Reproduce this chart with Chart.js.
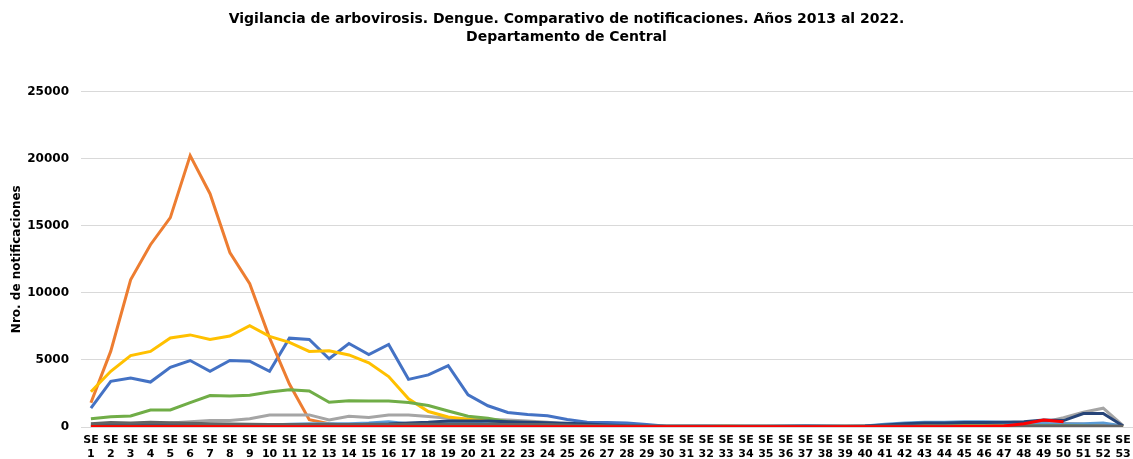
<!DOCTYPE html>
<html>
<head>
<meta charset="utf-8">
<script src="https://cdn.jsdelivr.net/npm/chart.js@4/dist/chart.umd.min.js"></script>
<style>
  html, body { margin: 0; padding: 0; background: #fff; }
  #wrap { width: 1133px; height: 459px; position: relative; }
</style>
</head>
<body>
<div id="wrap"><canvas id="chart"></canvas></div>
<script>
// Semanas epidemiológicas SE 1 .. SE 53
const weeks = Array.from({ length: 53 }, (_, i) => ['SE', String(i + 1)]);

// Series (one per year, Excel palette order)
const y2013 = [1400, 3400, 3650, 3350, 4450, 4950, 4150, 4950, 4900, 4150, 6620, 6520, 5080, 6220, 5400, 6150, 3550, 3880, 4570, 2400, 1580, 1080, 930, 830, 560, 360, 340, 290, 180, 60, 50, 50, 40, 40, 40, 40, 50, 40, 40, 50, 80, 100, 100, 120, 130, 150, 150, 150, 160, 150, 150, 150, 80];
const y2014 = [1800, 5650, 10970, 13580, 15600, 20220, 17380, 13000, 10680, 6640, 3200, 550, 250, 120, 80, 60, 50, 50, 40, 40, 40, 40, 40, 40, 40, 30, 30, 30, 30, 30, 30, 30, 30, 30, 30, 30, 30, 30, 30, 30, 30, 30, 30, 30, 40, 50, 60, 80, 200, 250, 200, 150, 100];
const y2015 = [200, 250, 250, 250, 300, 400, 480, 480, 620, 900, 900, 900, 520, 800, 700, 900, 900, 780, 650, 580, 560, 520, 450, 350, 200, 130, 100, 80, 60, 40, 40, 40, 40, 40, 40, 40, 40, 40, 40, 50, 60, 60, 60, 70, 70, 80, 80, 100, 350, 700, 1100, 1400, 100];
const y2016 = [2620, 4150, 5320, 5630, 6630, 6860, 6520, 6780, 7550, 6750, 6300, 5630, 5680, 5370, 4780, 3760, 2100, 1150, 750, 580, 450, 300, 220, 150, 100, 80, 60, 50, 50, 50, 50, 60, 80, 50, 50, 50, 50, 50, 50, 60, 100, 100, 100, 100, 100, 100, 100, 100, 100, 100, 100, 100, 60];
const y2017 = [100, 150, 150, 150, 150, 150, 150, 150, 150, 150, 200, 250, 250, 250, 300, 400, 250, 250, 300, 300, 250, 200, 150, 150, 120, 100, 100, 100, 80, 60, 60, 60, 60, 60, 60, 80, 100, 80, 60, 80, 200, 300, 350, 350, 400, 400, 350, 300, 250, 250, 250, 300, 80];
const y2018 = [620, 770, 820, 1270, 1270, 1810, 2340, 2310, 2360, 2610, 2780, 2690, 1840, 1960, 1940, 1930, 1820, 1600, 1190, 800, 650, 400, 300, 200, 150, 100, 80, 60, 40, 30, 30, 30, 30, 30, 30, 30, 30, 30, 30, 30, 40, 40, 40, 50, 50, 60, 60, 80, 100, 100, 80, 40, 20];
const y2019 = [100, 100, 100, 100, 100, 100, 100, 100, 100, 100, 120, 120, 150, 150, 200, 220, 300, 350, 450, 450, 450, 400, 350, 320, 280, 220, 150, 100, 80, 50, 50, 50, 50, 50, 50, 50, 60, 60, 60, 80, 150, 250, 300, 300, 330, 330, 350, 400, 520, 480, 1000, 1000, 80];
const y2020 = [60, 60, 60, 60, 60, 60, 60, 60, 60, 60, 60, 60, 60, 60, 60, 60, 60, 60, 60, 60, 60, 50, 50, 50, 50, 40, 40, 40, 40, 40, 40, 40, 40, 40, 40, 40, 40, 40, 40, 40, 40, 40, 40, 40, 40, 40, 40, 40, 40, 40, 40, 40, 40];
const y2021 = [250, 330, 300, 350, 320, 280, 250, 230, 200, 180, 180, 180, 180, 180, 180, 180, 200, 200, 200, 200, 180, 180, 180, 180, 150, 120, 100, 80, 60, 50, 50, 50, 50, 50, 50, 50, 50, 50, 50, 50, 80, 80, 80, 80, 80, 80, 80, 80, 80, 80, 80, 80, 50];
const y2022 = [20, 20, 20, 20, 20, 20, 20, 20, 20, 20, 20, 20, 20, 20, 20, 20, 20, 20, 20, 20, 20, 20, 20, 20, 20, 20, 20, 20, 20, 20, 20, 20, 20, 20, 20, 20, 20, 20, 20, 20, 20, 20, 20, 20, 30, 40, 80, 250, 520, 400, null, null, null];

const seriesNames = ['2013', '2014', '2015', '2016', '2017', '2018', '2019', '2020', '2021', '2022'];
const seriesData = [y2013, y2014, y2015, y2016, y2017, y2018, y2019, y2020, y2021, y2022];
const seriesColors = ['#4472C4', '#ED7D31', '#A5A5A5', '#FFC000', '#5B9BD5', '#70AD47', '#264478', '#9E480E', '#636363', '#FF0000'];

const FONT = "'DejaVu Sans', Verdana, sans-serif";

const ctx = document.getElementById('chart').getContext('2d');
new Chart(ctx, {
  type: 'line',
  data: {
    labels: weeks,
    datasets: seriesData.map((d, i) => ({
      label: seriesNames[i],
      data: d,
      borderColor: seriesColors[i],
      backgroundColor: seriesColors[i],
      borderWidth: 3,
      pointRadius: 0,
      tension: 0,
      fill: false,
      // later series drawn on top, like Excel
      order: seriesData.length - i,
    })),
  },
  options: {
    responsive: true,
    maintainAspectRatio: false,
    animation: false,
    layout: { padding: 0 },
    plugins: {
      legend: { display: false },
      tooltip: { enabled: false },
      title: {
        display: true,
        text: [
          'Vigilancia de arbovirosis. Dengue. Comparativo de notificaciones. Años 2013 al 2022.',
          'Departamento de Central',
        ],
        color: '#000',
        font: { family: FONT, size: 14, weight: 'bold', lineHeight: 1.3 },
        padding: { top: 10, bottom: 45 },
      },
    },
    scales: {
      x: {
        offset: true,
        grid: { display: false, drawTicks: false, offset: true },
        border: { display: false },
        ticks: {
          autoSkip: false,
          maxRotation: 0,
          minRotation: 0,
          padding: 7,
          color: '#000',
          font: { family: FONT, size: 11, weight: 'bold', lineHeight: 1.2 },
        },
        afterFit: (s) => {
          s.height = 32;
          s.paddingLeft = 0;
          s.paddingRight = 0;
        },
      },
      y: {
        min: 0,
        max: 25000,
        ticks: {
          stepSize: 5000,
          padding: 12,
          color: '#000',
          font: { family: FONT, size: 12, weight: 'bold' },
          callback: (v) => String(v),
        },
        grid: { color: '#d9d9d9', lineWidth: 1, drawTicks: false },
        border: { display: false },
        title: {
          display: true,
          text: 'Nro. de notificaciones',
          color: '#000',
          font: { family: FONT, size: 12, weight: 'bold', lineHeight: 1.2 },
          padding: { top: 10, bottom: 0 },
        },
        afterFit: (s) => { s.width = 81; },
      },
    },
  },
});
</script>
</body>
</html>
